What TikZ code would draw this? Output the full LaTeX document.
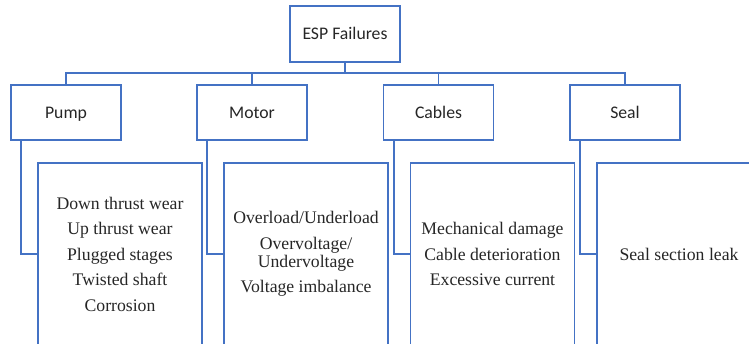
\documentclass[tikz,border=0pt]{standalone}
\usepackage{fontspec}
\setmainfont{Liberation Serif}
\newfontfamily\headfont{Carlito}
\newfontfamily\detailfont{Liberation Serif}
\definecolor{boxblue}{RGB}{68,114,196}
\begin{document}
\begin{tikzpicture}[x=1pt,y=-1pt,
  head/.style={draw=boxblue,line width=1.8pt,minimum width=110pt,minimum height=55pt,inner sep=0pt,
    text height=13pt,text depth=1.6pt,
    font=\headfont\fontsize{17.7}{21}\selectfont,text=black!85},
  detail/.style={draw=boxblue,line width=1.8pt,minimum width=164pt,minimum height=182pt,inner sep=0pt,
    align=center,font=\detailfont\fontsize{17.7}{25.5}\selectfont,text=black!85},
  conn/.style={draw=boxblue,line width=1.8pt}]
\useasboundingbox (0,0) rectangle (749,343);
\clip (0,0) rectangle (749,343);

\node[head,minimum height=56pt] (esp) at (345,34) {ESP Failures};
\node[head] (pump) at (66,112.5) {Pump};
\node[head] (motor) at (252,112.5) {Motor};
\node[head] (cables) at (438.5,112.5) {Cables};
\node[head] (seal) at (625,112.5) {Seal};

\node[detail] (pumpd) at (120,254) {Down thrust wear\\ Up thrust wear\\ Plugged stages\\ Twisted shaft\\ Corrosion};
\node[detail] (motord) at (306,254) {Overload/Underload\\ Overvoltage/\\[-7.5pt] Undervoltage\\ Voltage imbalance};
\node[detail] (cablesd) at (492.5,254) {Mechanical damage\\ Cable deterioration\\ Excessive current};
\node[detail] (seald) at (679,254) {Seal section leak};

\coordinate (bus) at (345,73);
\draw[conn] (esp.south) -- (bus);
\draw[conn] (pump.north) |- (bus -| seal.north) -- (seal.north);
\draw[conn] (motor.north) -- (motor.north |- bus);
\draw[conn] (cables.north) -- (cables.north |- bus);

\draw[conn] ([xshift=11pt]pump.south west) |- (pumpd.west);
\draw[conn] ([xshift=11pt]motor.south west) |- (motord.west);
\draw[conn] ([xshift=11pt]cables.south west) |- (cablesd.west);
\draw[conn] ([xshift=11pt]seal.south west) |- (seald.west);
\end{tikzpicture}
\end{document}
